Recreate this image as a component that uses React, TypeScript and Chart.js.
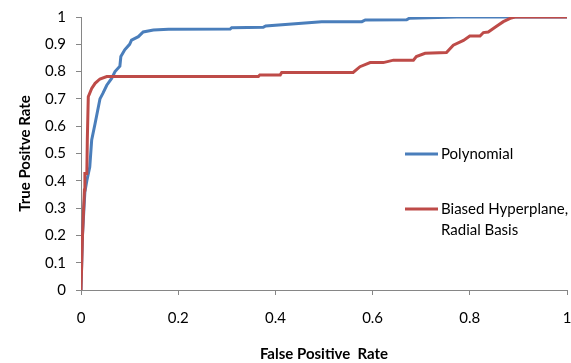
import React, { useEffect, useRef } from "react";
import { Chart, registerables } from "chart.js";

Chart.register(...registerables);

const xTicks = [0, 0.2, 0.4, 0.6, 0.8, 1];
const yTicks = [0, 0.1, 0.2, 0.3, 0.4, 0.5, 0.6, 0.7, 0.8, 0.9, 1];

const seriesNames = ["Polynomial", "Biased Hyperplane, Radial Basis"];
const legendLines = [["Polynomial"], ["Biased Hyperplane,", "Radial Basis"]];
const colors = ["#4A7EBB", "#BE4B48"];

const polyX = [0, 0.003, 0.008, 0.012, 0.018, 0.022, 0.029, 0.039, 0.045, 0.053, 0.063, 0.07, 0.08, 0.082, 0.09, 0.1, 0.104, 0.118, 0.128, 0.149, 0.18, 0.307, 0.31, 0.375, 0.38, 0.495, 0.578, 0.585, 0.67, 0.675, 0.773, 1];
const polyY = [0, 0.2, 0.36, 0.4, 0.45, 0.55, 0.61, 0.7, 0.72, 0.75, 0.775, 0.8, 0.82, 0.855, 0.88, 0.9, 0.915, 0.928, 0.945, 0.952, 0.955, 0.956, 0.961, 0.962, 0.967, 0.983, 0.983, 0.989, 0.99, 0.995, 1, 1];

const rbfX = [0, 0.003, 0.007, 0.008, 0.012, 0.013, 0.015, 0.022, 0.029, 0.039, 0.053, 0.365, 0.368, 0.41, 0.413, 0.56, 0.574, 0.595, 0.622, 0.643, 0.684, 0.69, 0.708, 0.752, 0.766, 0.787, 0.8, 0.821, 0.828, 0.838, 0.855, 0.869, 0.883, 0.893, 1];
const rbfY = [0, 0.195, 0.366, 0.427, 0.427, 0.55, 0.708, 0.738, 0.757, 0.773, 0.782, 0.782, 0.788, 0.788, 0.797, 0.797, 0.818, 0.833, 0.833, 0.842, 0.842, 0.855, 0.867, 0.87, 0.897, 0.914, 0.93, 0.93, 0.943, 0.945, 0.966, 0.983, 0.995, 1, 1];

const FONT = "Lato, 'Open Sans', sans-serif";

const legendPlugin = {
  id: "customLegend",
  afterDraw(chart: any) {
    const ctx = chart.ctx;
    const x0 = 405;
    const lineLen = 33;
    const rows = [154, 209];
    ctx.save();
    ctx.font = `15px ${FONT}`;
    ctx.textBaseline = "middle";
    ctx.textAlign = "left";
    chart.data.datasets.forEach((ds: any, i: number) => {
      const y = rows[i];
      ctx.strokeStyle = ds.borderColor;
      ctx.lineWidth = 3;
      ctx.beginPath();
      ctx.moveTo(x0, y);
      ctx.lineTo(x0 + lineLen, y);
      ctx.stroke();
      ctx.fillStyle = "#000";
      legendLines[i].forEach((t, j) => ctx.fillText(t, x0 + lineLen + 3, y + j * 21));
    });
    ctx.restore();
  },
};

export default function App() {
  const ref = useRef<HTMLCanvasElement>(null);
  useEffect(() => {
    const chart = new Chart(ref.current!, {
      type: "line",
      data: {
        datasets: [
          {
            label: seriesNames[0],
            data: polyX.map((x, i) => ({ x, y: polyY[i] })),
            borderColor: colors[0],
            backgroundColor: colors[0],
            borderWidth: 3,
            pointRadius: 0,
            tension: 0,
            order: 1,
          },
          {
            label: seriesNames[1],
            data: rbfX.map((x, i) => ({ x, y: rbfY[i] })),
            borderColor: colors[1],
            backgroundColor: colors[1],
            borderWidth: 3,
            pointRadius: 0,
            tension: 0,
            order: 0,
          },
        ],
      },
      options: {
        responsive: false,
        animation: false,
        layout: { padding: { top: 17, right: 4, left: 0, bottom: 0 } },
        plugins: { legend: { display: false }, tooltip: { enabled: false } },
        scales: {
          x: {
            type: "linear",
            min: 0,
            max: 1,
            afterBuildTicks: (s: any) => {
              s.ticks = xTicks.map((v) => ({ value: v }));
            },
            afterFit: (s: any) => {
              s.height = 73;
              s.paddingLeft = 0;
              s.paddingRight = 0;
            },
            ticks: {
              color: "#000",
              font: { family: FONT, size: 15 },
              padding: 14,
              maxRotation: 0,
              callback: (v: any) => String(Math.round(v * 10) / 10),
            },
            grid: { drawOnChartArea: false, drawTicks: true, tickLength: 5, color: "#868686" },
            border: { color: "#868686", width: 1 },
            title: {
              display: true,
              text: "False Positive  Rate",
              color: "#000",
              font: { family: FONT, size: 15, weight: "bold" },
              padding: { top: 0, bottom: 0 },
            },
          },
          y: {
            type: "linear",
            min: 0,
            max: 1,
            afterBuildTicks: (s: any) => {
              s.ticks = yTicks.map((v) => ({ value: v }));
            },
            afterFit: (s: any) => {
              s.width = 81;
              s.paddingTop = 0;
              s.paddingBottom = 0;
            },
            ticks: {
              color: "#000",
              font: { family: FONT, size: 15 },
              padding: 10,
              callback: (v: any) => String(Math.round(v * 10) / 10),
            },
            grid: { drawOnChartArea: false, drawTicks: true, tickLength: 5, color: "#868686" },
            border: { color: "#868686", width: 1 },
            title: {
              display: true,
              text: "True Positve Rate",
              color: "#000",
              font: { family: FONT, size: 15, weight: "bold" },
              padding: { top: 16, bottom: 0 },
            },
          },
        },
      },
      plugins: [legendPlugin],
    });
    return () => chart.destroy();
  }, []);
  return (
    <div style={{ position: "absolute", left: 0, top: 0, width: 571, height: 363, background: "#fff" }}>
      <canvas ref={ref} width={571} height={363} />
    </div>
  );
}
